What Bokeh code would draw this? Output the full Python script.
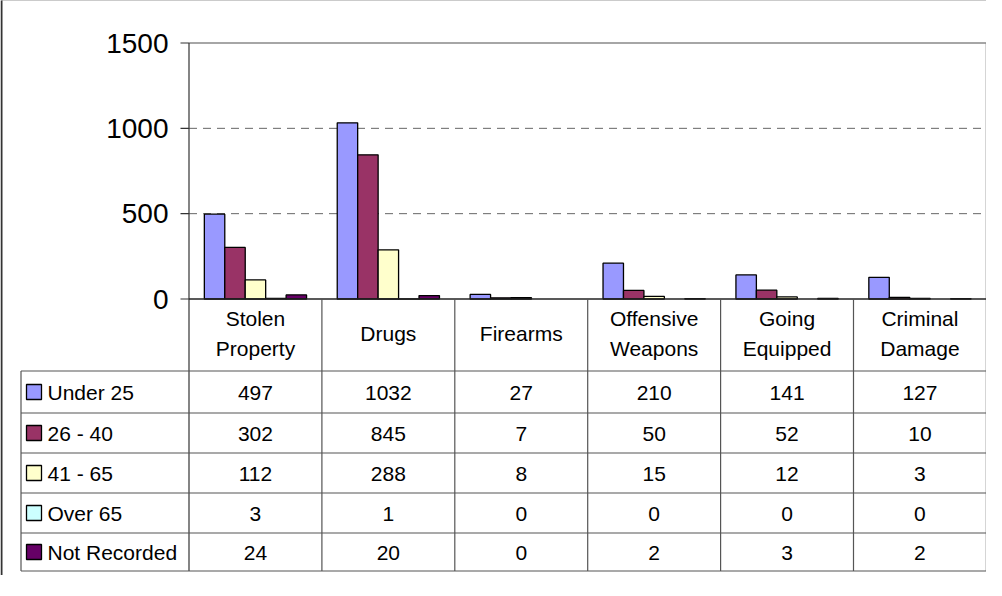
from bokeh.plotting import figure
from bokeh.models import Range1d
from bokeh.core.properties import value
from bokeh.embed import file_html
from bokeh.resources import INLINE

# ---------------- data ----------------
categories = ["Stolen Property", "Drugs", "Firearms", "Offensive Weapons", "Going Equipped", "Criminal Damage"]
cat_lines = [["Stolen", "Property"], ["Drugs"], ["Firearms"], ["Offensive", "Weapons"], ["Going", "Equipped"], ["Criminal", "Damage"]]
series_names = ["Under 25", "26 - 40", "41 - 65", "Over 65", "Not Recorded"]
under_25 = [497, 1032, 27, 210, 141, 127]
age_26_40 = [302, 845, 7, 50, 52, 10]
age_41_65 = [112, 288, 8, 15, 12, 3]
over_65 = [3, 1, 0, 0, 0, 0]
not_recorded = [24, 20, 0, 2, 3, 2]
y_ticks = [0, 500, 1000, 1500]
y_tick_labels = ["0", "500", "1000", "1500"]
gridlines = [500, 1000]

series = [under_25, age_26_40, age_41_65, over_65, not_recorded]
colors = ["#9999FF", "#993366", "#FFFFCC", "#CCFFFF", "#660066"]

# ---------------- layout (page pixels) ----------------
W, H = 986, 575
MARGIN = 8
PLOT_L = 196.5
COL_W = 132.9
ZERO_Y = 306.5
TOP_Y = 50.5
Y_MAX = 1500
UPP = Y_MAX / (ZERO_Y - TOP_Y)
LEG_L = 28.5
ROW_Y = [306.5, 378.5, 420.5, 460.5, 500.5, 540.5, 578.5]
FONT = value("Liberation Sans")


def X(px):
    return (px - PLOT_L) / COL_W


def Y(py):
    return (ZERO_Y - py) * UPP


ncat = len(categories)

p = figure(width=W, height=H,
           x_range=Range1d(X(MARGIN), X(MARGIN + W)),
           y_range=Range1d(Y(MARGIN + H), Y(MARGIN)),
           output_backend="svg", toolbar_location=None,
           x_axis_location=None, y_axis_location=None,
           min_border=0, outline_line_color=None,
           background_fill_color="white", border_fill_color="white")
p.grid.visible = False

# gridlines
p.segment(x0=[0] * len(gridlines), x1=[ncat] * len(gridlines), y0=gridlines, y1=gridlines,
          line_color="#666666", line_width=1, line_dash="8 6")

# bars (zero values are not drawn, as in the original)
bw = 1 / 6.5
for j, vals in enumerate(series):
    xs = [i + 0.75 * bw + (j + 0.5) * bw for i in range(ncat) if vals[i] > 0]
    tops = [v for v in vals if v > 0]
    p.vbar(x=xs, top=tops, bottom=0, width=bw, fill_color=colors[j],
           line_color="black", line_width=1.3)

# plot area border (top, right)
p.segment(x0=[0, ncat], x1=[ncat, ncat], y0=[Y_MAX, Y_MAX], y1=[Y_MAX, Y(ROW_Y[-1])],
          line_color="#888888", line_width=1.5)

# y axis + ticks
p.segment(x0=[0], x1=[0], y0=[Y_MAX], y1=[Y(ROW_Y[-1])], line_color="#333333", line_width=1.2)
p.segment(x0=[X(188)] * len(y_ticks), x1=[0] * len(y_ticks), y0=y_ticks, y1=y_ticks,
          line_color="#333333", line_width=1.2)
p.text(x=[X(176)] * len(y_ticks), y=y_ticks, text=y_tick_labels, text_font=FONT,
       text_font_size="28px", text_align="right", text_baseline="middle", text_color="black")

# table horizontal lines
p.segment(x0=[0], x1=[ncat], y0=[0], y1=[0], line_color="#222222", line_width=1.3)
hy = [Y(r) for r in ROW_Y[1:]]
p.segment(x0=[X(LEG_L)] * len(hy), x1=[ncat] * len(hy), y0=hy, y1=hy,
          line_color="#555555", line_width=1.2)
# table vertical lines
vx = list(range(1, ncat))
p.segment(x0=vx, x1=vx, y0=[0] * len(vx), y1=[Y(ROW_Y[-1])] * len(vx),
          line_color="#555555", line_width=1.2)
p.segment(x0=[X(LEG_L)], x1=[X(LEG_L)], y0=[Y(ROW_Y[1])], y1=[Y(ROW_Y[-1])],
          line_color="#555555", line_width=1.2)

# category labels
cx, cy, ct = [], [], []
for i, lines in enumerate(cat_lines):
    n = len(lines)
    for k, t in enumerate(lines):
        cx.append(i + 0.5)
        cy.append(Y(341 + (k - (n - 1) / 2) * 30))
        ct.append(t)
p.text(x=cx, y=cy, text=ct, text_font=FONT, text_font_size="21px",
       text_align="center", text_baseline="middle", text_color="black")

# table values
tx, ty, tt = [], [], []
for j, vals in enumerate(series):
    yc = Y((ROW_Y[j + 1] + ROW_Y[j + 2]) / 2 + 0.5)
    for i, v in enumerate(vals):
        tx.append(i + 0.5)
        ty.append(yc)
        tt.append(str(v))
p.text(x=tx, y=ty, text=tt, text_font=FONT, text_font_size="21px",
       text_align="center", text_baseline="middle", text_color="black")

# legend keys in table
ly = [Y((ROW_Y[j + 1] + ROW_Y[j + 2]) / 2) for j in range(len(series_names))]
p.rect(x=[X(41.5)] * len(ly), y=ly, width=15 / COL_W, height=15 * UPP,
       fill_color=colors, line_color="black", line_width=1.3)
p.text(x=[X(55)] * len(ly), y=[v - 0.5 * UPP for v in ly], text=series_names, text_font=FONT,
       text_font_size="21px", text_align="left", text_baseline="middle", text_color="black")

# outer chart border
p.segment(x0=[X(9), X(9)], x1=[X(9), X(MARGIN + W)], y0=[Y(MARGIN + H), Y(7)], y1=[Y(7), Y(7)],
          line_color="#333333", line_width=2)

open("out.html", "w").write(file_html(p, INLINE))
